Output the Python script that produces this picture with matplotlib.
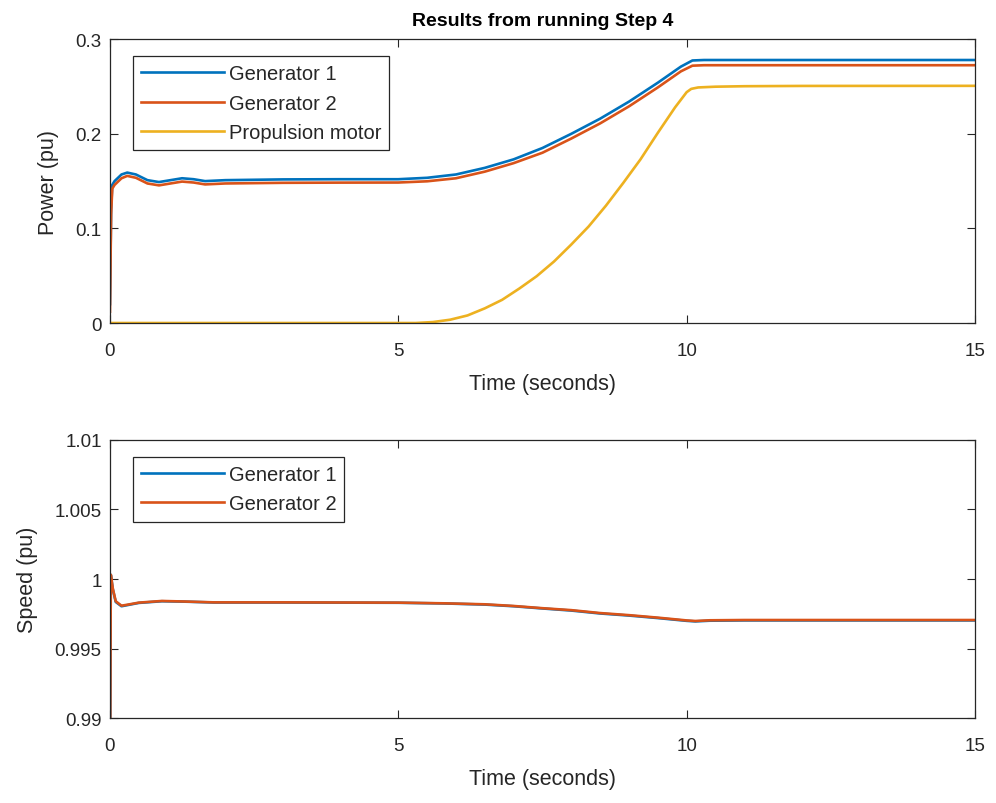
import matplotlib
matplotlib.use("Agg")
import matplotlib.pyplot as plt

plt.rcParams['font.family'] = ['Liberation Sans', 'DejaVu Sans']

# ---------------- data ----------------
t_pow = [0, 0.02, 0.04, 0.08, 0.2, 0.3, 0.45, 0.65, 0.85, 1.05, 1.25, 1.45, 1.65,
         2.0, 3.0, 4.0, 5.0, 5.5, 6.0, 6.5, 7.0, 7.5, 8.0, 8.5, 9.0, 9.5, 9.9,
         10.1, 10.3, 11.0, 12.0, 13.0, 14.0, 15.0]
gen1_pow = [0.020, 0.120, 0.146, 0.150, 0.157, 0.159, 0.157, 0.151, 0.149, 0.151,
            0.153, 0.152, 0.150, 0.151, 0.1518, 0.152, 0.152, 0.1535, 0.157, 0.164,
            0.173, 0.185, 0.200, 0.216, 0.234, 0.254, 0.271, 0.2775, 0.278, 0.278,
            0.278, 0.278, 0.278, 0.278]
gen2_pow = [0.012, 0.115, 0.142, 0.146, 0.153, 0.1555, 0.1535, 0.1475, 0.1455, 0.1475,
            0.1495, 0.1485, 0.1465, 0.1475, 0.1482, 0.1484, 0.1485, 0.1498, 0.153, 0.160,
            0.169, 0.180, 0.195, 0.211, 0.229, 0.249, 0.266, 0.272, 0.2725, 0.2725,
            0.2725, 0.2725, 0.2725, 0.2725]
t_mot = [0, 5.0, 5.3, 5.6, 5.9, 6.2, 6.5, 6.8, 7.1, 7.4, 7.7, 8.0, 8.3, 8.6,
         8.9, 9.2, 9.5, 9.8, 10.0, 10.08, 10.2, 10.5, 11.0, 12.0, 15.0]
motor_pow = [0.0, 0.0, 0.0, 0.001, 0.0035, 0.008, 0.0155, 0.0245, 0.0365, 0.0495,
             0.065, 0.083, 0.102, 0.124, 0.148, 0.173, 0.201, 0.228, 0.244, 0.2475,
             0.249, 0.2498, 0.2503, 0.2506, 0.2507]

t_spd = [0, 0.015, 0.05, 0.1, 0.2, 0.3, 0.5, 0.9, 1.3, 1.8, 3.0, 5.0, 5.8, 6.5,
         7.0, 7.5, 8.0, 8.5, 9.0, 9.5, 10.0, 10.15, 10.4, 11.0, 15.0]
gen2_spd = [0.985, 1.0003, 0.9993, 0.9984, 0.99808, 0.99815, 0.99830, 0.99842,
            0.99838, 0.99832, 0.99832, 0.99830, 0.99825, 0.99818, 0.99806, 0.99790,
            0.99776, 0.99755, 0.99740, 0.99722, 0.99702, 0.99698, 0.99703, 0.99705,
            0.99705]
gen1_spd = [0.985, 1.0003, 0.99926, 0.99835, 0.99804, 0.99812, 0.99828, 0.99840,
            0.99837, 0.99831, 0.99831, 0.99829, 0.99824, 0.99816, 0.99804, 0.99788,
            0.99773, 0.99752, 0.99737, 0.99719, 0.99699, 0.99695, 0.99700, 0.99702,
            0.99702]

pow_yticks = [0, 0.1, 0.2, 0.3]
pow_yticklabels = ['0', '0.1', '0.2', '0.3']
spd_yticks = [0.99, 0.995, 1.0, 1.005, 1.01]
spd_yticklabels = ['0.99', '0.995', '1', '1.005', '1.01']
xticks = [0, 5, 10, 15]

C1, C2, C3 = '#0072BD', '#D95319', '#EDB120'
AX = '#262626'

fig = plt.figure(figsize=(9.96, 8.04), dpi=100)
ax1 = fig.add_axes([0.1104, 0.597, 0.8685, 0.353])
ax2 = fig.add_axes([0.1104, 0.1057, 0.8685, 0.3458])

lw = 1.9
ax1.plot(t_pow, gen1_pow, color=C1, lw=lw, label='Generator 1')
ax1.plot(t_pow, gen2_pow, color=C2, lw=lw, label='Generator 2')
ax1.plot(t_mot, motor_pow, color=C3, lw=lw, label='Propulsion motor')
ax1.set_xlim(0, 15)
ax1.set_ylim(0, 0.3)
ax1.set_yticks(pow_yticks)
ax1.set_yticklabels(pow_yticklabels)
ax1.set_ylabel('Power (pu)', fontsize=15.5, color=AX, labelpad=12)
ax1.set_title('Results from running Step 4', fontsize=14, fontweight='bold', pad=10)

ax2.plot(t_spd, gen1_spd, color=C1, lw=lw, label='Generator 1')
ax2.plot(t_spd, gen2_spd, color=C2, lw=lw, label='Generator 2')
ax2.set_xlim(0, 15)
ax2.set_ylim(0.99, 1.01)
ax2.set_yticks(spd_yticks)
ax2.set_yticklabels(spd_yticklabels)
ax2.set_ylabel('Speed (pu)', fontsize=15.5, color=AX, labelpad=12)

legend_anchor = {ax1: (0.0266, 0.94), ax2: (0.0266, 0.939)}
for ax in (ax1, ax2):
    ax.set_xticks(xticks)
    ax.set_xticklabels([str(x) for x in xticks])
    ax.set_xlabel('Time (seconds)', fontsize=15.5, color=AX, labelpad=10)
    ax.tick_params(direction='in', top=True, right=True, length=6, width=0.8,
                   labelsize=13.5, colors=AX)
    ax.tick_params(axis='x', pad=14)
    ax.tick_params(axis='y', pad=6)
    for s in ax.spines.values():
        s.set_color(AX)
        s.set_linewidth(0.9)
    leg = ax.legend(loc='upper left', bbox_to_anchor=legend_anchor[ax], fontsize=14.5,
                    frameon=True, fancybox=False, edgecolor=AX, framealpha=1,
                    handlelength=4.1, borderpad=0.4, labelspacing=0.52,
                    handletextpad=0.25, borderaxespad=0)
    leg.get_frame().set_linewidth(0.9)
    for txt in leg.get_texts():
        txt.set_color(AX)

fig.savefig('out.png', dpi=100)
